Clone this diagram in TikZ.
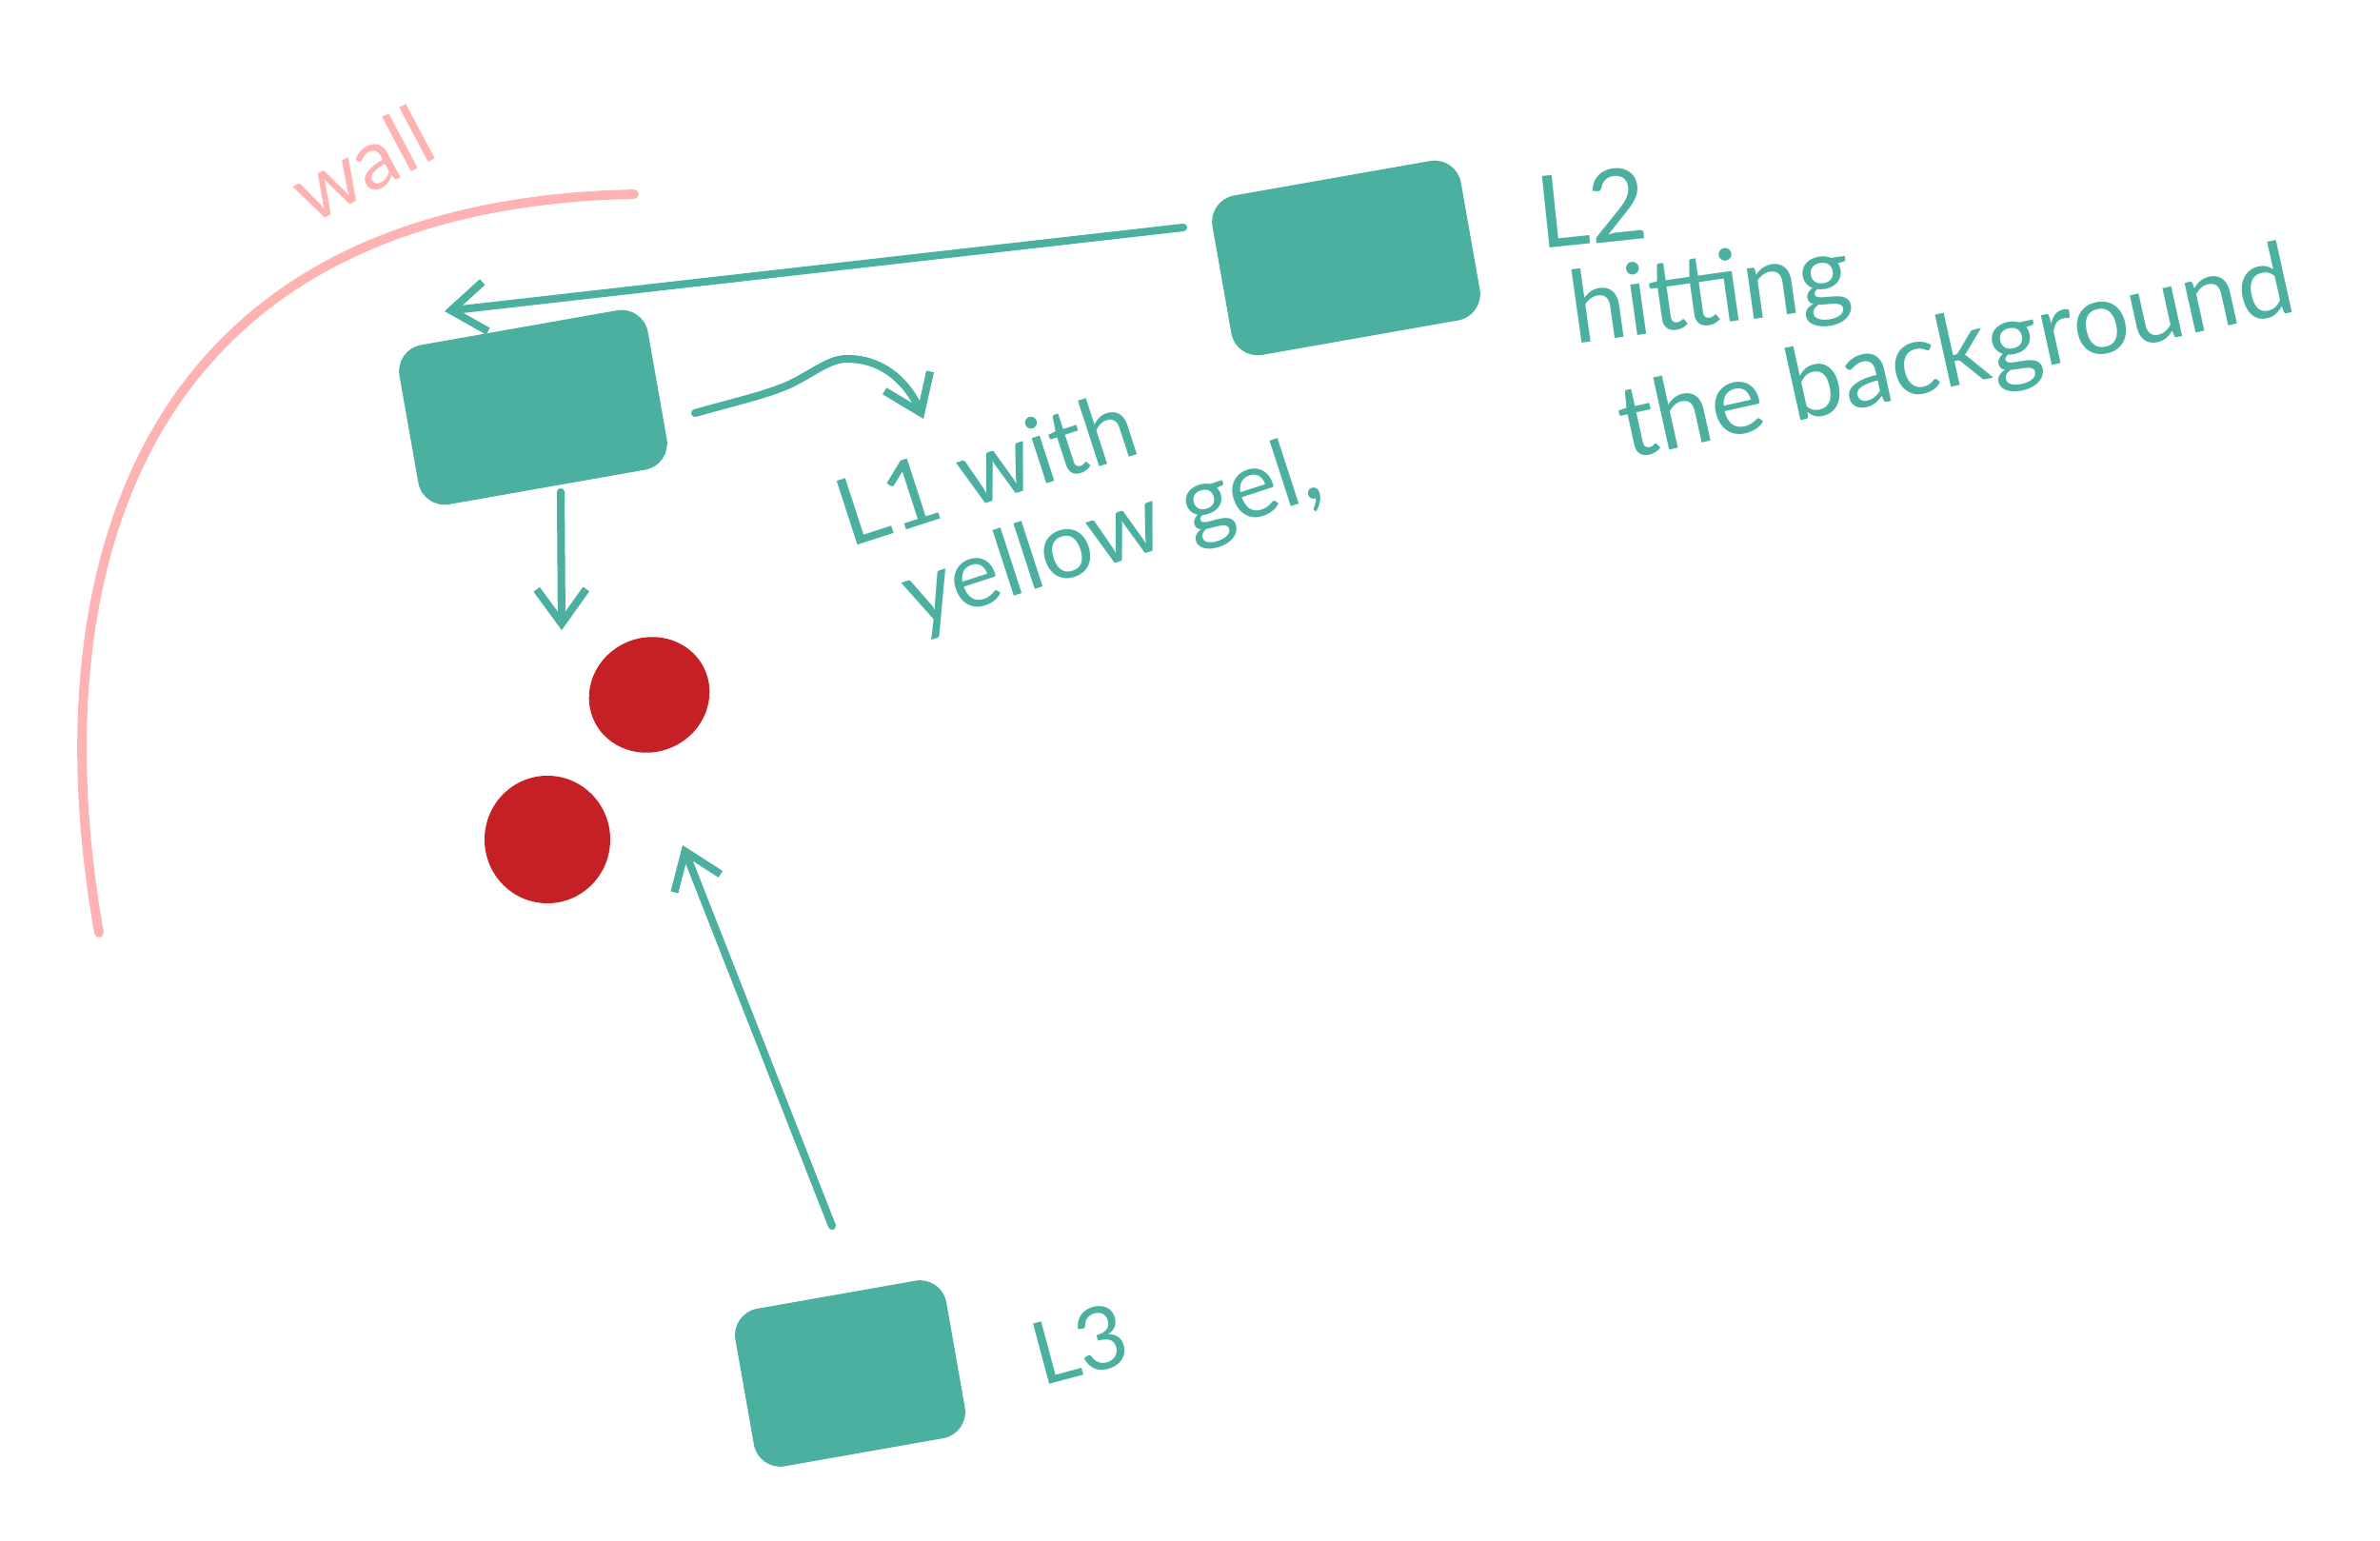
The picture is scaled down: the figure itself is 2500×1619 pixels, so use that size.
\documentclass[tikz,border=0pt]{standalone}
\usepackage{fontspec}
\setmainfont{Lato}
\usetikzlibrary{arrows.meta,shapes.geometric}
\definecolor{gelteal}{RGB}{76,176,160}
\definecolor{wallpink}{RGB}{255,178,178}
\definecolor{subjred}{RGB}{196,32,38}

\begin{document}
\begin{tikzpicture}[
    x=0.1mm, y=-0.1mm,
    >={Straight Barb[length=3.6mm,width=5.2mm]},
    lamp/.style={fill=gelteal,rounded corners=2.8mm,minimum width=26.5mm,
                 minimum height=17mm,inner sep=0pt,rotate=10},
    subject/.style={ellipse,fill=subjred,inner sep=0pt},
    beam/.style={->,draw=gelteal,line width=2.3pt,line cap=round},
    wallline/.style={draw=wallpink,line width=2.8pt,line cap=round},
    hand/.style={text=gelteal,inner sep=0pt,align=left,font=\fontsize{30}{30}\selectfont},
  ]
  \useasboundingbox (0,0) rectangle (2500,1619);

  % --- wall (left, curving round the set)
  \draw[wallline] (666,204) .. controls (130,215) and (40,620) .. (104,980);
  \node[hand,text=wallpink,font=\fontsize{25}{30}\selectfont,rotate=28] (wall) at (380,172) {wall};

  % --- lights
  \node[lamp] (l1) at (560,428) {};
  \node[lamp] (l2) at (1414,271) {};
  \node[lamp,minimum width=22.5mm,minimum height=16.8mm] (l3) at (893,1443) {};

  % --- subjects
  \node[subject,minimum width=12.8mm,minimum height=12mm,rotate=25] (s1) at (682,730) {};
  \node[subject,minimum width=13.2mm,minimum height=13.4mm] (s2) at (575,882) {};

  % --- notes
  \node[hand,rotate=6] (l2lab) at (1672,218) {L2};
  \node[hand,rotate=8] (l2hit) at (1797,312) {hitting};
  \node[hand,rotate=12.5] (l2bg) at (2056,376) {the background};
  \node[hand,font=\fontsize{28}{29}\selectfont,rotate=18] (l1note) at (1134,522)
       {L1 with\\\hspace{4mm}yellow gel,};
  \node[hand,font=\fontsize{26}{30}\selectfont,rotate=15] (l3lab) at (1134,1412) {L3};

  % --- beam ends
  \coordinate (l2out) at (1243,239);
  \coordinate (l1hit) at (467,327);
  \coordinate (l1side) at (730,434);
  \coordinate (geltip) at (970,440);
  \coordinate (l1out) at (589,517);
  \coordinate (s1top) at (590,662);
  \coordinate (l3out) at (874,1288);
  \coordinate (s2side) at (717,888);

  % --- beams
  \draw[beam] (l2out) -- (l1hit);
  \draw[beam] (l1out) -- (s1top);
  \draw[beam] (l3out) -- (s2side);
  \draw[beam] (l1side) .. controls (780,420) and (800,416) .. (827,405)
              .. controls (855,392) and (870,377) .. (890,377)
              .. controls (930,377) and (955,405) .. (geltip);

\end{tikzpicture}
\end{document}
